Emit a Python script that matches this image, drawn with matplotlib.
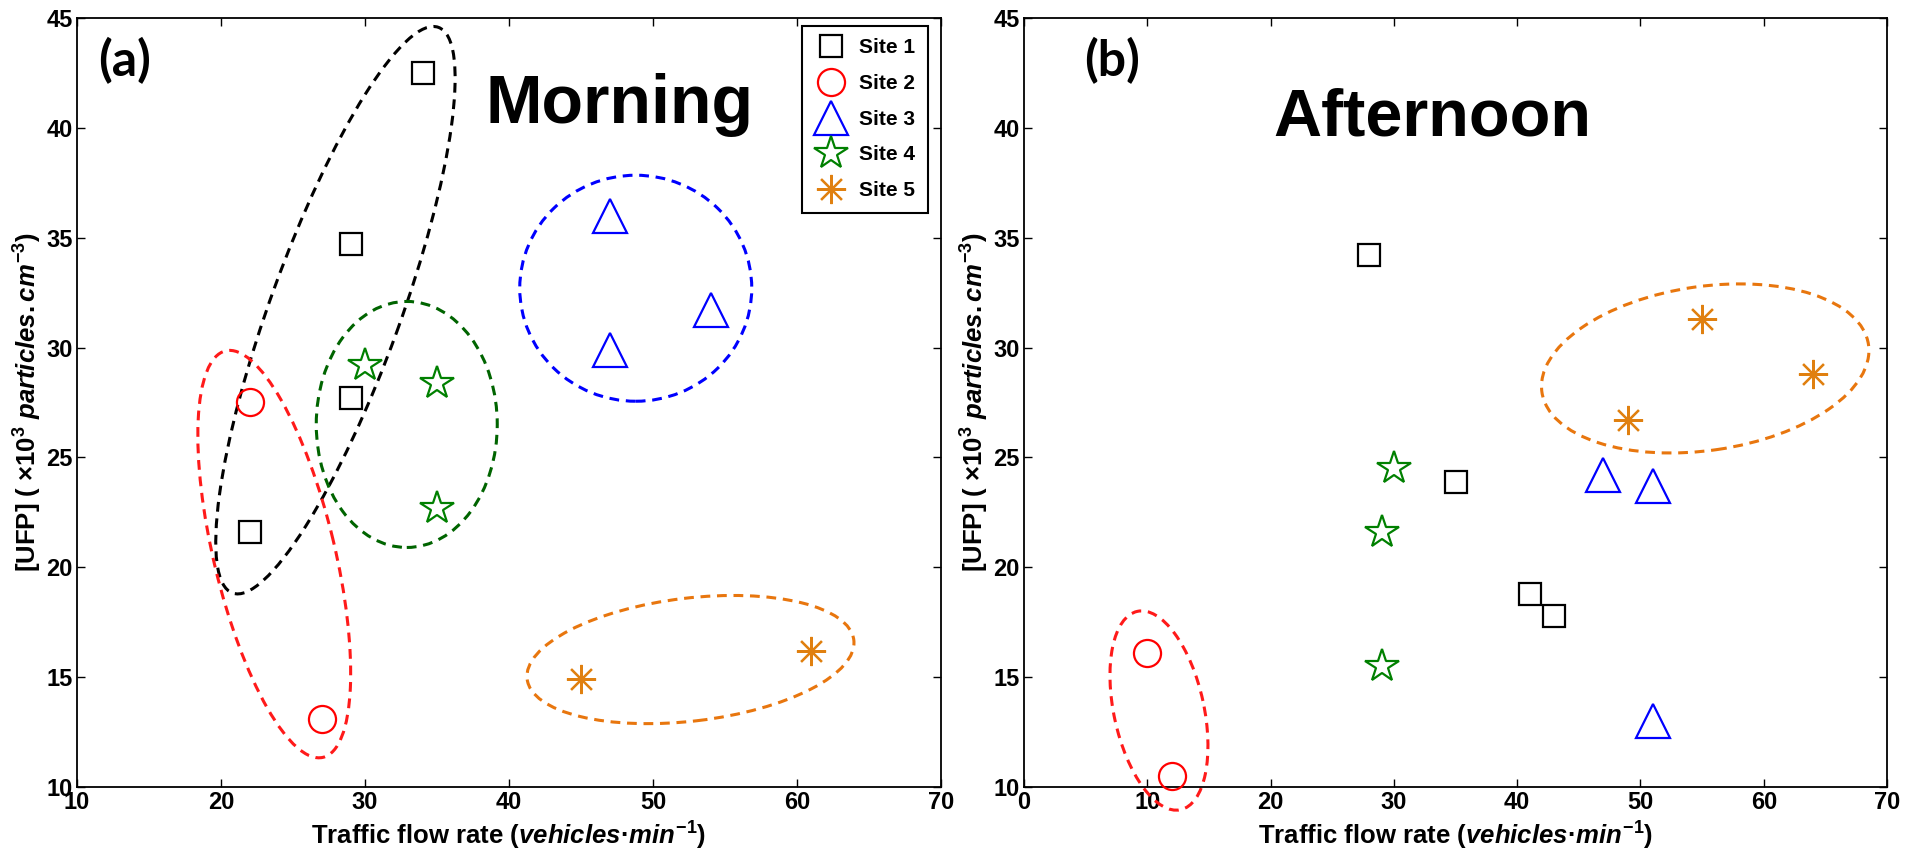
import numpy as np
import matplotlib
matplotlib.use("Agg")
import matplotlib.pyplot as plt
from matplotlib.patches import Ellipse
from matplotlib.transforms import ScaledTranslation

plt.rcParams['font.family'] = ['Liberation Sans', 'DejaVu Sans']
plt.rcParams['font.weight'] = 'bold'
plt.rcParams['axes.labelweight'] = 'bold'
plt.rcParams['mathtext.fontset'] = 'custom'
plt.rcParams['mathtext.rm'] = 'Liberation Sans:bold'
plt.rcParams['mathtext.it'] = 'Liberation Sans:italic:bold'
plt.rcParams['mathtext.bf'] = 'Liberation Sans:bold'

# traffic flow (vehicles/min) and UFP (x10^3 particles/cm3) per site
sites = ['Site 1', 'Site 2', 'Site 3', 'Site 4', 'Site 5']
morning_flow = [[22, 29, 29, 34], [22, 27], [47, 47, 54], [30, 35, 35], [45, 61]]
morning_ufp = [[21.6, 27.7, 34.7, 42.5], [27.5, 13.1], [36.0, 29.9, 31.7],
               [29.2, 28.4, 22.7], [14.9, 16.2]]
afternoon_flow = [[28, 35, 41, 43], [10, 12], [47, 51, 51], [30, 29, 29], [49, 55, 64]]
afternoon_ufp = [[34.2, 23.9, 18.8, 17.8], [16.1, 10.5], [24.2, 23.7, 13.0],
                 [24.5, 21.6, 15.5], [26.7, 31.3, 28.8]]

# cluster outlines: centre (data), width/height (inches), angle (deg), colour
morning_rings = [
    (27.95, 31.7, 6.02, 1.30, 70.0, 'black'),
    (23.7, 20.6, 4.18, 1.21, 103.5, '#ff1a1a'),
    (32.9, 26.5, 1.81, 2.46, 0.0, '#006400'),
    (48.8, 32.7, 2.32, 2.26, 0.0, '#0000ff'),
    (52.6, 15.8, 3.29, 1.23, 6.8, '#e8760e'),
]
afternoon_rings = [
    (55.25, 29.05, 3.30, 1.64, 8.3, '#e8760e'),
    (10.95, 13.48, 2.03, 0.90, 102.3, '#ff1a1a'),
]

markers = ['s', 'o', '^', '*', (8, 2, 0)]
colors = ['black', '#ff0000', '#0000ff', '#008000', '#e08010']
msizes = [16.5, 19.5, 24, 25, 21]

fig = plt.figure(figsize=(19.05, 8.56), dpi=100)
ax1 = fig.add_axes([0.0404, 0.0806, 0.4536, 0.8984])
ax2 = fig.add_axes([0.5375, 0.0806, 0.4531, 0.8984])


def draw_panel(ax, flow, ufp, rings, xlim):
    for i in range(len(sites)):
        ax.plot(flow[i], ufp[i], linestyle='none', marker=markers[i],
                markersize=msizes[i], markerfacecolor='none',
                markeredgecolor=colors[i], markeredgewidth=1.6,
                label=sites[i], clip_on=False, zorder=3)
    for cx, cy, w, h, ang, col in rings:
        tr = fig.dpi_scale_trans + ScaledTranslation(cx, cy, ax.transData)
        e = Ellipse((0, 0), w, h, angle=ang, transform=tr, fill=False,
                    edgecolor=col, linewidth=2.2, linestyle=(0, (3.2, 2.2)),
                    clip_on=False, zorder=2)
        ax.add_patch(e)
    ax.set_xlim(*xlim)
    ax.set_ylim(10, 45)
    ax.set_xticks(np.arange(xlim[0], xlim[1] + 1, 10))
    ax.set_yticks(np.arange(10, 46, 5))
    ax.tick_params(direction='in', length=6, width=1, top=True, right=True,
                   labelsize=17, pad=3)
    for lab in ax.get_xticklabels() + ax.get_yticklabels():
        lab.set_fontweight('bold')
    for s in ax.spines.values():
        s.set_linewidth(1.3)
    ax.set_xlabel('Traffic flow rate ($vehicles{\u00b7}min^{-1}$)', fontsize=18.5,
                  fontweight='bold', labelpad=4)
    ax.set_ylabel('[UFP] ( $\\times$10$^{3}$ $particles.cm^{-3}$)', fontsize=18.5,
                  fontweight='bold', labelpad=2)


draw_panel(ax1, morning_flow, morning_ufp, morning_rings, (10, 70))
draw_panel(ax2, afternoon_flow, afternoon_ufp, afternoon_rings, (0, 70))

ax1.text(0.024, 0.944, '(a)', transform=ax1.transAxes, fontsize=36,
         family='Lato', fontweight='bold', ha='left', va='center')
ax2.text(0.0695, 0.944, '(b)', transform=ax2.transAxes, fontsize=36,
         family='Lato', fontweight='bold', ha='left', va='center')
ax1.text(0.473, 0.8635, 'Morning', transform=ax1.transAxes, fontsize=49,
         ha='left', va='baseline')
ax2.text(0.2885, 0.8466, 'Afternoon', transform=ax2.transAxes, fontsize=48,
         ha='left', va='baseline')

leg = ax1.legend(loc='upper right', bbox_to_anchor=(0.985, 0.9896), fontsize=15,
                 numpoints=1, fancybox=False, edgecolor='black', framealpha=1,
                 labelspacing=0.8, handlelength=1.6, handletextpad=0.55,
                 borderpad=0.6, borderaxespad=0)
leg.get_frame().set_linewidth(1.5)

fig.savefig('out.png', dpi=100)
